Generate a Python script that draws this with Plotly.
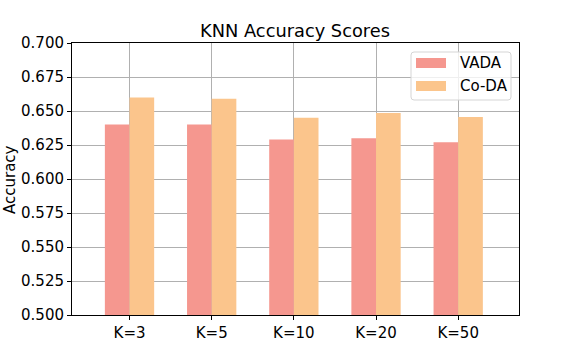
import plotly.graph_objects as go

# 数据
k_labels = ["K=3", "K=5", "K=10", "K=20", "K=50"]
vada_scores = [0.640, 0.640, 0.629, 0.630, 0.627]
coda_scores = [0.660, 0.659, 0.645, 0.6485, 0.6456]
series_names = ["VADA", "Co-DA"]
series_colors = ["#F5978F", "#FBC58C"]

FONT = "DejaVu Sans"
FS = 15

# 去掉页面 body 默认边距后，画布与窗口一致
W, H = 576, 360
L, R, T, B = 72, 57, 43, 45
PW, PH = W - L - R, H - T - B


def px_x(sx):
    # 像素 -> paper 坐标
    return (sx - L) / PW


def px_y(sy):
    return 1 - (sy - T) / PH


fig = go.Figure()
for name, vals, col in zip(series_names, [vada_scores, coda_scores], series_colors):
    fig.add_trace(go.Bar(x=k_labels, y=vals, name=name,
                         marker=dict(color=col, line=dict(width=0))))

axis_common = dict(
    showline=True, linecolor="black", linewidth=1, mirror=True,
    showgrid=True, gridcolor="#b0b0b0", gridwidth=1,
    ticks="outside", ticklen=4, tickcolor="black",
    tickfont=dict(family=FONT, size=FS, color="black"),
    layer="above traces", zeroline=False, automargin=False,
)

# 手工图例（matplotlib 风格的长条色块）
shapes = []
annotations = []
bx0, bx1, by0, by1, r = px_x(411), px_x(511), px_y(52), px_y(100), 3
rx, ry = r / PW, r / PH
path = (f"M{bx0 + rx},{by0} L{bx1 - rx},{by0} Q{bx1},{by0} {bx1},{by0 - ry} "
        f"L{bx1},{by1 + ry} Q{bx1},{by1} {bx1 - rx},{by1} L{bx0 + rx},{by1} "
        f"Q{bx0},{by1} {bx0},{by1 + ry} L{bx0},{by0 - ry} Q{bx0},{by0} {bx0 + rx},{by0} Z")
shapes.append(dict(type="path", xref="paper", yref="paper", path=path,
                   fillcolor="rgba(255,255,255,0.8)", line=dict(color="#d5d5d5", width=1),
                   layer="above"))
for i, (name, col) in enumerate(zip(series_names, series_colors)):
    cy = 63 + i * 23
    shapes.append(dict(type="rect", xref="paper", yref="paper",
                       x0=px_x(416), x1=px_x(446), y0=px_y(cy - 5), y1=px_y(cy + 5),
                       fillcolor=col, line=dict(width=0), layer="above"))
    annotations.append(dict(text=name, xref="paper", yref="paper",
                            x=px_x(458), y=px_y(cy), xanchor="left", yanchor="middle",
                            showarrow=False,
                            font=dict(family=FONT, size=FS, color="black")))

# y 轴标题用注释放置
annotations.append(dict(text="Accuracy", xref="paper", yref="paper",
                        x=px_x(10), y=px_y(179), xanchor="center", yanchor="middle",
                        textangle=-90, showarrow=False,
                        font=dict(family=FONT, size=FS, color="black")))

fig.update_layout(
    width=W, height=H,
    margin=dict(l=L, r=R, t=T, b=B),
    paper_bgcolor="white", plot_bgcolor="white",
    barmode="group", bargap=0.4, bargroupgap=0,
    showlegend=False,
    title=dict(text="KNN Accuracy Scores", x=295 / W, xanchor="center",
               y=1 - 31 / H, yanchor="middle",
               font=dict(family=FONT, size=17.8, color="black")),
    xaxis=dict(range=[-0.70, 4.74], **axis_common),
    yaxis=dict(range=[0.5, 0.7], tickvals=[0.5 + 0.025 * i for i in range(9)],
               tickformat=".3f", **axis_common),
    shapes=shapes,
    annotations=annotations,
)

fig.write_html("out.html", config={"displayModeBar": False},
               post_script="document.body.style.margin = '0';")
